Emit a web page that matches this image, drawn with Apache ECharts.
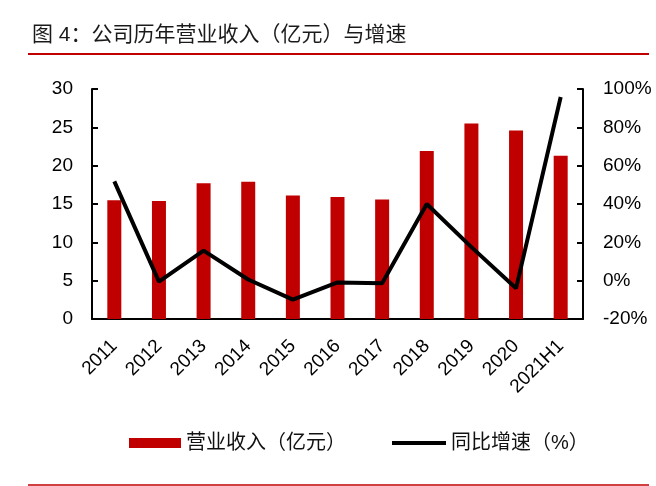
<!DOCTYPE html>
<html>
<head>
<meta charset="utf-8">
<script src="https://cdn.jsdelivr.net/npm/echarts@6/dist/echarts.min.js"></script>
<style>
  html, body { margin: 0; padding: 0; background: #fff; }
  #main { width: 656px; height: 486px; }
</style>
</head>
<body>
<div id="main"></div>
<script>
// 年份
var years = ['2011', '2012', '2013', '2014', '2015', '2016', '2017', '2018', '2019', '2020', '2021H1'];
// 营业收入（亿元）
var revenue = [15.5, 15.4, 17.7, 17.9, 16.1, 15.9, 15.6, 21.9, 25.5, 24.6, 21.3];
// 同比增速（%）
var growth = [51.8, -0.5, 15.7, 0.6, -9.9, -0.9, -1.3, 40.0, 17.5, -4.0, 95.8];

var numFont = 'Liberation Sans, Arial, Noto Sans CJK SC';
var cnFont = 'Liberation Sans, Noto Sans CJK SC';

var myChart = echarts.init(document.getElementById('main'));
var option = {
    backgroundColor: '#fff',
    animation: false,
    graphic: [
        {
            type: 'text', left: 32, top: 25,
            style: { text: '图 4：公司历年营业收入（亿元）与增速', fontSize: 21, fill: '#1a1a1a', fontFamily: cnFont }
        },
        {
            type: 'line', shape: { x1: 28, y1: 54, x2: 649, y2: 54 },
            style: { stroke: '#C00000', lineWidth: 2 }
        },
        {
            type: 'line', shape: { x1: 28, y1: 485, x2: 649, y2: 485 },
            style: { stroke: '#C00000', lineWidth: 1.5 }
        }
    ],
    grid: { left: 92, right: 73, top: 89, bottom: 167 },
    legend: [
        {
            data: ['营业收入（亿元）'],
            left: 124, top: 428,
            itemWidth: 52, itemHeight: 10, itemGap: 6,
            icon: 'rect',
            textStyle: { fontSize: 20, color: '#111', fontFamily: cnFont }
        },
        {
            data: ['同比增速（%）'],
            left: 387, top: 428,
            itemWidth: 54, itemHeight: 4,
            icon: 'rect',
            textStyle: { fontSize: 20, color: '#111', fontFamily: cnFont }
        }
    ],
    xAxis: {
        type: 'category',
        data: years,
        axisLine: { lineStyle: { color: '#000', width: 2 } },
        axisTick: { inside: true, length: 6, lineStyle: { color: '#000', width: 2 } },
        axisLabel: { rotate: 45, interval: 0, fontSize: 19, color: '#000', fontFamily: numFont, margin: 24 }
    },
    yAxis: [
        {
            type: 'value', min: 0, max: 30, interval: 5,
            axisLine: { show: true, lineStyle: { color: '#000', width: 2 } },
            axisTick: { show: true, inside: true, length: 6, lineStyle: { color: '#000', width: 2 } },
            axisLabel: { fontSize: 19, color: '#000', fontFamily: numFont, margin: 19 },
            splitLine: { show: false }
        },
        {
            type: 'value', min: -20, max: 100, interval: 20,
            axisLine: { show: true, lineStyle: { color: '#000', width: 2 } },
            axisTick: { show: true, inside: true, length: 6, lineStyle: { color: '#000', width: 2 } },
            axisLabel: { fontSize: 19, color: '#000', fontFamily: numFont, margin: 20, formatter: '{value}%' },
            splitLine: { show: false }
        }
    ],
    series: [
        {
            name: '营业收入（亿元）',
            type: 'bar',
            data: revenue,
            barWidth: 14,
            itemStyle: { color: '#C00000' }
        },
        {
            name: '同比增速（%）',
            type: 'line',
            yAxisIndex: 1,
            data: growth,
            symbol: 'none',
            itemStyle: { color: '#000' },
            lineStyle: { color: '#000', width: 4 }
        }
    ]
};
myChart.setOption(option);
</script>
</body>
</html>
